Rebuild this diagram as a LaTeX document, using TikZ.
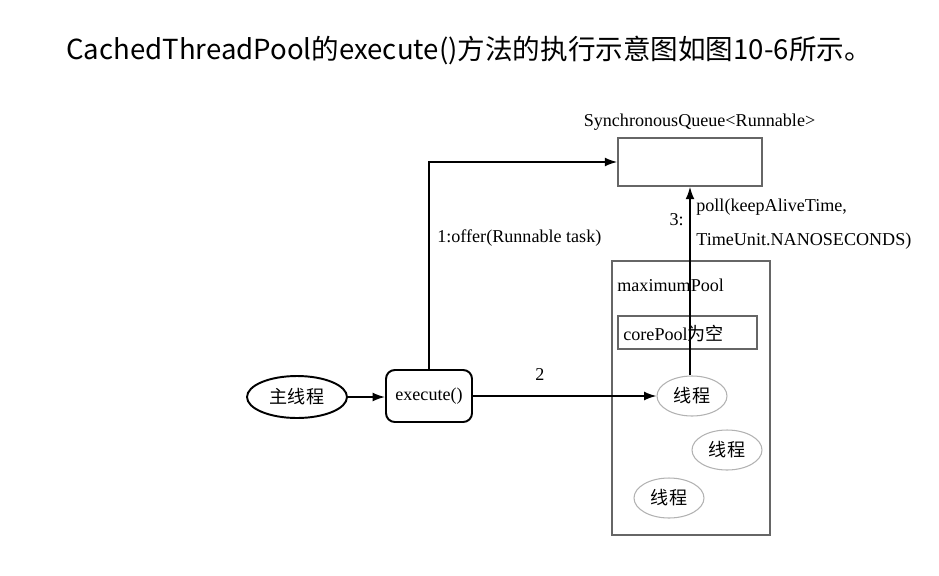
\documentclass[tikz,border=0pt]{standalone}
\usepackage{fontspec}
\setmainfont{Liberation Serif}
\newfontfamily\cjk{Noto Sans CJK SC}
\usepackage{tikz}
\usetikzlibrary{shapes,shapes.geometric,arrows,arrows.meta,positioning,calc}

\begin{document}
\begin{tikzpicture}[
    x=0.02cm, y=-0.02cm,
    lbl/.style={inner sep=0pt, font=\fontsize{10.3}{12}\selectfont},
    box/.style={rectangle, draw=gray!80!black, line width=0.9pt},
    thread/.style={ellipse, draw=gray!60, line width=0.6pt, minimum width=1.4cm, minimum height=0.8cm, inner sep=0pt, font=\fontsize{10.3}{12}\selectfont\cjk},
    arrow/.style={-{Latex[length=7pt,width=5pt]}, line width=0.9pt}
]
    \useasboundingbox (0,0) rectangle (939,575);

    % Title line
    \node[anchor=west, inner sep=0pt, font=\fontsize{15.7}{18}\selectfont\cjk] (title) at (66,50) {CachedThreadPool的execute()方法的执行示意图如图10-6所示。};

    % Queue
    \node[lbl] (qlabel) at (699.5,122) {SynchronousQueue<Runnable>};
    \node[box, minimum width=2.88cm, minimum height=0.96cm] (queue) at (690,162) {};

    % Pools
    \node[box, minimum width=3.16cm, minimum height=5.48cm] (maxpool) at (691,398) {};
    \node[lbl, anchor=west] (maxlabel) at (617,285) {maximumPool};
    \node[box, minimum width=2.78cm, minimum height=0.66cm] (corepool) at (687.5,332.5) {};
    \node[lbl, anchor=west] (corelabel) at (623,333) {corePool{\cjk 为空}};

    % Threads
    \node[thread] (t1) at (692,396) {线程};
    \node[thread] (t2) at (727,450) {线程};
    \node[thread] (t3) at (669,498) {线程};

    % Main thread and execute()
    \node[ellipse, draw, line width=1.1pt, minimum width=2cm, minimum height=0.84cm, inner sep=0pt, font=\fontsize{10.3}{12}\selectfont\cjk] (main) at (297,397) {主线程};
    \node[rectangle, rounded corners=5pt, draw, line width=1.1pt, minimum width=1.72cm, minimum height=1.04cm, lbl] (exec) at (429,396) {execute()};

    % Connectors
    \coordinate (bend) at (exec.north |- queue.west);
    \draw[arrow] (main) -- (exec.west |- main.east);
    \draw[arrow] (exec.north) -- (bend) -- (queue.west);
    \draw[arrow] (exec.east) -- (t1.west);
    \draw[arrow] (t1.north -| queue.south) -- (queue.south);

    % Labels
    \node[lbl, anchor=west] (offer) at (437,238) {1:offer(Runnable task)};
    \node[lbl] (two) at (540,375) {2};
    \node[lbl, anchor=east] (three) at (684,220) {3:};
    \node[lbl, anchor=west] (poll1) at (696,207) {poll(keepAliveTime,};
    \node[lbl, anchor=west] (poll2) at (696,241) {TimeUnit.NANOSECONDS)};
\end{tikzpicture}
\end{document}
